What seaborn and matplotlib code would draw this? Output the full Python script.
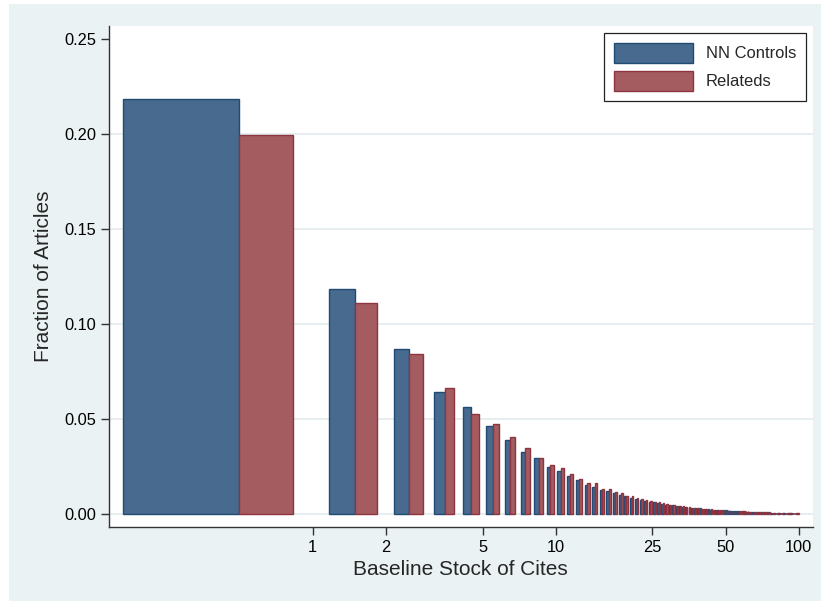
import matplotlib
matplotlib.use("Agg")
import matplotlib.pyplot as plt
from matplotlib.patches import Patch, Rectangle
from matplotlib.ticker import NullLocator, FixedLocator
import pandas as pd
import seaborn as sns

# ---------------- data ----------------
cites = list(range(100))
nn_controls = [
    0.2184, 0.1184, 0.0867, 0.0644, 0.0565, 0.0463, 0.0389, 0.0326, 0.0293, 0.0247,
    0.0225, 0.0200, 0.0177, 0.0153, 0.0142, 0.0126, 0.0123, 0.0109, 0.0098, 0.0096,
    0.0084, 0.0080, 0.0075, 0.0069, 0.0066, 0.0061, 0.0059, 0.0053, 0.0050, 0.0048,
    0.0046, 0.0044, 0.0041, 0.0039, 0.0036, 0.0033, 0.0033, 0.0031, 0.0030, 0.0030,
    0.0026, 0.0026, 0.0025, 0.0024, 0.0022, 0.0022, 0.0021, 0.0020, 0.0020, 0.0019,
    0.0019, 0.0018, 0.0017, 0.0017, 0.0016, 0.0016, 0.0015, 0.0015, 0.0014, 0.0014,
    0.0013, 0.0013, 0.0013, 0.0012, 0.0012, 0.0011, 0.0011, 0.0011, 0.0010, 0.0010,
    0.0010, 0.0009, 0.0009, 0.0009, 0.0009, 0.0008, 0.0008, 0.0008, 0.0008, 0.0007,
    0.0007, 0.0007, 0.0007, 0.0006, 0.0006, 0.0006, 0.0006, 0.0006, 0.0005, 0.0005,
    0.0005, 0.0005, 0.0005, 0.0005, 0.0004, 0.0004, 0.0004, 0.0004, 0.0004, 0.0004,
]
relateds = [
    0.1995, 0.1109, 0.0840, 0.0663, 0.0525, 0.0472, 0.0404, 0.0346, 0.0293, 0.0259,
    0.0240, 0.0210, 0.0182, 0.0165, 0.0161, 0.0130, 0.0130, 0.0114, 0.0109, 0.0095,
    0.0093, 0.0087, 0.0078, 0.0073, 0.0068, 0.0063, 0.0061, 0.0056, 0.0052, 0.0049,
    0.0047, 0.0045, 0.0043, 0.0040, 0.0037, 0.0035, 0.0034, 0.0032, 0.0031, 0.0029,
    0.0028, 0.0027, 0.0026, 0.0025, 0.0023, 0.0023, 0.0022, 0.0021, 0.0021, 0.0020,
    0.0019, 0.0019, 0.0018, 0.0018, 0.0017, 0.0016, 0.0016, 0.0015, 0.0015, 0.0014,
    0.0014, 0.0014, 0.0013, 0.0013, 0.0012, 0.0012, 0.0011, 0.0011, 0.0011, 0.0010,
    0.0010, 0.0010, 0.0010, 0.0009, 0.0009, 0.0009, 0.0008, 0.0008, 0.0008, 0.0008,
    0.0007, 0.0007, 0.0007, 0.0007, 0.0007, 0.0006, 0.0006, 0.0006, 0.0006, 0.0005,
    0.0005, 0.0005, 0.0005, 0.0005, 0.0005, 0.0004, 0.0004, 0.0004, 0.0004, 0.0004,
]
groups = ["NN Controls", "Relateds"]
x_ticks = [1, 2, 5, 10, 25, 50, 100]
x_tick_labels = ["1", "2", "5", "10", "25", "50", "100"]
y_ticks = [0.00, 0.05, 0.10, 0.15, 0.20, 0.25]

# ---------------- styling ----------------
BG = "#EAF2F3"
GRID = "#E6EEF1"
FILL = {"NN Controls": "#476A8E", "Relateds": "#A45C60"}
EDGE = {"NN Controls": "#1F4B74", "Relateds": "#8E3440"}

df = pd.DataFrame({
    "bin_center": [c + 0.5 for c in cites] * 2,
    "fraction": nn_controls + relateds,
    "group": [groups[0]] * len(cites) + [groups[1]] * len(cites),
})

sns.set_theme(style="white")
plt.rcParams["font.family"] = ["Liberation Sans", "DejaVu Sans"]

W, H = 821, 601
fig = plt.figure(figsize=(W / 100, H / 100), dpi=100)
fig.patch.set_facecolor("white")
fig.patches.append(Rectangle((9 / W, 0), 1, 1 - 4 / H, transform=fig.transFigure,
                             facecolor=BG, edgecolor="none", zorder=-10))

left, right, top, bottom = 109, 812.7, 26, 527
ax = fig.add_axes([left / W, 1 - bottom / H, (right - left) / W, (bottom - top) / H])
ax.set_facecolor("white")

sns.barplot(data=df, x="bin_center", y="fraction", hue="group", hue_order=groups,
            native_scale=True, width=2 / 3, dodge=True, gap=0, errorbar=None,
            palette=FILL, saturation=1, linewidth=1.0, legend=False, ax=ax)

# edge colours per series
for container, g in zip(ax.containers, groups):
    for bar in container:
        bar.set_edgecolor(EDGE[g])
        bar.set_linewidth(1.0)

ax.set_xscale("log")
ax.set_xlim(0.1455, 114)
ax.set_ylim(-0.0068, 0.2568)
ax.xaxis.set_major_locator(FixedLocator(x_ticks))
ax.xaxis.set_minor_locator(NullLocator())
ax.set_xticklabels(x_tick_labels)
ax.set_yticks(y_ticks)
ax.set_yticklabels([f"{v:.2f}" for v in y_ticks])

for v in y_ticks[:-1]:
    ax.axhline(v, color=GRID, lw=1.4, zorder=0)
ax.set_axisbelow(True)

for s in ["top", "right"]:
    ax.spines[s].set_visible(False)
for s in ["left", "bottom"]:
    ax.spines[s].set_color("#333333")
    ax.spines[s].set_linewidth(1.0)

ax.tick_params(axis="both", which="major", direction="out", length=6, width=1,
               color="#333333", labelsize=11.8, labelcolor="black", pad=3,
               left=True, bottom=True)

ax.set_xlabel("Baseline Stock of Cites", fontsize=15, labelpad=4)
ax.set_ylabel("Fraction of Articles", fontsize=15, labelpad=8)

handles = [Patch(facecolor=FILL[g], edgecolor=EDGE[g], linewidth=1.0) for g in groups]
leg = ax.legend(handles, groups, loc="upper right", fontsize=11.9, frameon=True,
                fancybox=False, framealpha=1, edgecolor="#222222",
                handlelength=4.8, handleheight=1.55, borderaxespad=0.4,
                borderpad=0.6, handletextpad=0.75, labelspacing=0.45)
leg.get_frame().set_linewidth(0.9)

fig.savefig("out.png", dpi=100, facecolor=fig.get_facecolor())
